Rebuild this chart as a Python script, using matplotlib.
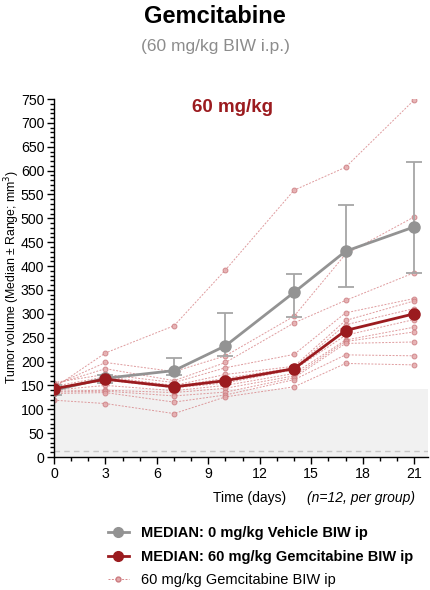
import numpy as np
import matplotlib.pyplot as plt
from matplotlib.lines import Line2D
from matplotlib.ticker import MultipleLocator

plt.rcParams['font.family'] = ['Liberation Sans', 'DejaVu Sans']

# data
days = [0, 3, 7, 10, 14, 17, 21]

vehicle_median = [140, 165, 181, 233, 345, 431, 482]
vehicle_low = [130, 155, 172, 212, 294, 356, 386]
vehicle_high = [150, 172, 208, 302, 384, 528, 617]

gem_median = [143, 163, 147, 160, 185, 265, 300]

# one row per animal (60 mg/kg Gemcitabine BIW ip), n = 12
gem_animals = [
    [145, 218, 275, 392, 559, 607, 748],
    [150, 198, 179, 212, 295, 425, 503],
    [152, 185, 160, 198, 281, 328, 386],
    [156, 173, 156, 187, 215, 302, 332],
    [148, 168, 150, 173, 190, 286, 327],
    [144, 165, 148, 165, 187, 277, 311],
    [142, 161, 145, 155, 183, 255, 288],
    [140, 150, 139, 150, 175, 245, 272],
    [138, 140, 135, 144, 170, 242, 262],
    [136, 138, 128, 136, 166, 238, 241],
    [133, 135, 115, 130, 162, 214, 212],
    [119, 112, 91, 126, 147, 196, 193],
]

band_top = 142
dashed_level = 12.5

GREY = '#939393'
DARKRED = '#9b1b1f'
LIGHTRED = '#d98a8d'


def main():
    fig = plt.figure(figsize=(4.3, 5.9), dpi=100)
    ax = fig.add_axes([0.1256, 0.2254, 0.8694, 0.6068])

    # shaded band and dashed reference
    ax.axhspan(0, band_top, color='#f1f1f1', zorder=0, lw=0)
    ax.axhline(dashed_level, color='#c8c8c8', lw=1, ls=(0, (4, 3)), zorder=1)

    # individual animals
    for vals in gem_animals:
        ax.plot(days, vals, color=LIGHTRED, lw=0.7, ls=(0, (2, 1.5)),
                marker='o', ms=3.5, mfc='#e3a9ab', mec='#cc7c80', mew=0.7,
                alpha=0.85, zorder=2)

    # vehicle median with range
    vm = np.array(vehicle_median)
    yerr = [vm - np.array(vehicle_low), np.array(vehicle_high) - vm]
    ax.errorbar(days, vm, yerr=yerr, color=GREY, lw=2, marker='o', ms=8,
                ecolor='#a6a6a6', elinewidth=1.3, capsize=6, capthick=1.3,
                zorder=4)

    # gemcitabine median
    ax.plot(days, gem_median, color=DARKRED, lw=2, marker='o', ms=8, zorder=5)

    ax.set_xlim(0, 21.8)
    ax.set_ylim(0, 750)
    ax.xaxis.set_major_locator(MultipleLocator(3))
    ax.xaxis.set_minor_locator(MultipleLocator(1))
    ax.yaxis.set_major_locator(MultipleLocator(50))
    ax.yaxis.set_minor_locator(MultipleLocator(10))
    ax.tick_params(axis='both', which='major', labelsize=10.2, length=5,
                   width=1, pad=2)
    ax.tick_params(axis='both', which='minor', length=3, width=1)
    ax.spines['top'].set_visible(False)
    ax.spines['right'].set_visible(False)
    ax.spines['left'].set_linewidth(1)
    ax.spines['bottom'].set_linewidth(1)

    fig.text(0.028, 0.53, 'Tumor volume (Median ± Range; mm$^3$)',
             rotation=90, ha='center', va='center', fontsize=8.8)
    fig.text(0.58, 0.149, 'Time (days)', ha='center', fontsize=10)
    fig.text(0.84, 0.149, '(n=12, per group)', ha='center', fontsize=10,
             style='italic')

    ax.text(0.478, 0.975, '60 mg/kg', transform=ax.transAxes, ha='center',
            va='center', color=DARKRED, fontsize=13.5, fontweight='bold')

    fig.text(0.5, 0.972, 'Gemcitabine', ha='center', va='center',
             fontsize=17, fontweight='bold')
    fig.text(0.5, 0.922, '(60 mg/kg BIW i.p.)', ha='center', va='center',
             fontsize=12.5, color='#8c8c8c')

    handles = [
        Line2D([], [], color=GREY, lw=2, marker='o', ms=7),
        Line2D([], [], color=DARKRED, lw=2, marker='o', ms=7),
        Line2D([], [], color=LIGHTRED, lw=0.7, ls=(0, (2, 1.5)), marker='o',
               ms=3.5, mfc='#e3a9ab', mec='#cc7c80'),
    ]
    labels = ['MEDIAN: 0 mg/kg Vehicle BIW ip',
              'MEDIAN: 60 mg/kg Gemcitabine BIW ip',
              '60 mg/kg Gemcitabine BIW ip']
    leg = fig.legend(handles, labels, loc='upper left',
                     bbox_to_anchor=(0.25, 0.108), frameon=False,
                     fontsize=10.5, handlelength=1.5, handletextpad=0.8,
                     labelspacing=0.65, borderaxespad=0, borderpad=0)
    for i, t in enumerate(leg.get_texts()):
        if i < 2:
            t.set_fontweight('bold')

    fig.savefig('out.png', dpi=100)
    plt.close(fig)


if __name__ == "__main__":
    main()
